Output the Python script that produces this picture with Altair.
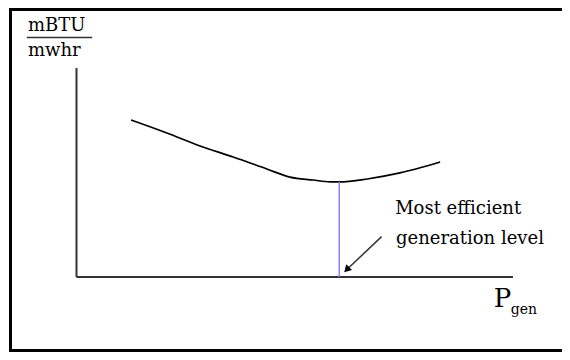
import altair as alt
import pandas as pd

# Schematic heat-rate curve: generation level (P_gen) vs. heat rate (mBTU / mwhr)
p_gen = [12.5, 20.7, 28.3, 35.9, 43.6, 48.9, 54.2, 58.1, 60.2, 66.6, 74.1, 83.3]
heat_rate = [75.1, 68.9, 62.7, 57.4, 51.7, 47.8, 46.4, 45.5, 45.5, 46.9, 49.8, 55.0]

# most efficient point (minimum of the curve)
p_opt = 60.2
hr_min = 45.5

# axis extent (schematic units)
axis_max = 100

y_title_top = "mBTU"
y_title_bottom = "mwhr"
x_title = "P"
x_title_sub = "gen"
note_lines = ["Most efficient", "generation level"]

FONT = "DejaVu Serif"

# annotation anchors, in data units
note_x = [73.0, 73.2]
note_y = [30.1, 15.8]
arrow_from = (69.9, 19.3)
arrow_to = (62.3, 4.3)
arrow_head = (61.9, 3.5)
ytitle_x = -11.1
ytitle_y = [117.7, 105.7]
frac_bar = (-11.4, 3.6, 114.6)
xtitle_pos = (95.6, -14.4)
xsub_pos = (99.5, -17.7)

xs = alt.Scale(domain=[0, axis_max], range=[66, 502.5])
ys = alt.Scale(domain=[0, axis_max], range=[267.5, 58.5])


def X(f):
    return alt.X(f, type="quantitative", scale=xs, axis=None)


def Y(f):
    return alt.Y(f, type="quantitative", scale=ys, axis=None)


curve_df = pd.DataFrame({"p": p_gen, "hr": heat_rate})
curve = alt.Chart(curve_df).mark_line(
    color="black", strokeWidth=1.7, interpolate="monotone"
).encode(x=X("p"), y=Y("hr"))

axes_df = pd.DataFrame({
    "x": [0, 0], "y": [0, 0], "x2": [0, axis_max], "y2": [axis_max, 0]
})
axes = alt.Chart(axes_df).mark_rule(color="#333333", strokeWidth=2).encode(
    x=X("x"), y=Y("y"), x2=alt.X2("x2"), y2=alt.Y2("y2")
)

opt_df = pd.DataFrame({"x": [p_opt], "y": [0], "y2": [hr_min]})
opt_line = alt.Chart(opt_df).mark_rule(color="#7f7fff", strokeWidth=1.5).encode(
    x=X("x"), y=Y("y"), y2=alt.Y2("y2")
)

arrow_df = pd.DataFrame({
    "x": [arrow_from[0]], "y": [arrow_from[1]],
    "x2": [arrow_to[0]], "y2": [arrow_to[1]],
})
arrow = alt.Chart(arrow_df).mark_rule(
    color="#333333", strokeWidth=1.5
).encode(x=X("x"), y=Y("y"), x2=alt.X2("x2"), y2=alt.Y2("y2"))
head_df = pd.DataFrame({"x": [arrow_head[0]], "y": [arrow_head[1]]})
head = alt.Chart(head_df).mark_point(
    shape="triangle-up", angle=225, size=65, filled=True, color="black", opacity=1
).encode(x=X("x"), y=Y("y"))

note_df = pd.DataFrame({"t": note_lines, "x": note_x, "y": note_y})
note = alt.Chart(note_df).mark_text(
    align="left", baseline="alphabetic", font=FONT, fontSize=18, color="black"
).encode(x=X("x"), y=Y("y"), text="t:N")

ytitle_df = pd.DataFrame({
    "t": [y_title_top, y_title_bottom], "x": [ytitle_x, ytitle_x], "y": ytitle_y
})
ytitle = alt.Chart(ytitle_df).mark_text(
    align="left", baseline="alphabetic", font=FONT, fontSize=18, color="black"
).encode(x=X("x"), y=Y("y"), text="t:N")

bar_df = pd.DataFrame({"x": [frac_bar[0]], "x2": [frac_bar[1]], "y": [frac_bar[2]]})
frac = alt.Chart(bar_df).mark_rule(color="#333333", strokeWidth=1.5).encode(
    x=X("x"), x2=alt.X2("x2"), y=Y("y")
)

p_df = pd.DataFrame({"t": [x_title], "x": [xtitle_pos[0]], "y": [xtitle_pos[1]]})
p_text = alt.Chart(p_df).mark_text(
    align="left", baseline="alphabetic", font=FONT, fontSize=26, color="black"
).encode(x=X("x"), y=Y("y"), text="t:N")

sub_df = pd.DataFrame({"t": [x_title_sub], "x": [xsub_pos[0]], "y": [xsub_pos[1]]})
sub_text = alt.Chart(sub_df).mark_text(
    align="left", baseline="alphabetic", font=FONT, fontSize=14, color="black"
).encode(x=X("x"), y=Y("y"), text="t:N")

chart = alt.layer(
    axes, curve, opt_line, arrow, head, note, ytitle, frac, p_text, sub_text
).properties(
    width=555.5,
    height=341,
    padding={"left": 2.5, "top": 1.5, "right": -4, "bottom": 1.5},
    autosize=alt.AutoSizeParams(type="none"),
    background="white",
).configure_view(stroke="black", strokeWidth=3)

chart.save("out.html", embed_options={"renderer": "svg", "actions": False})
